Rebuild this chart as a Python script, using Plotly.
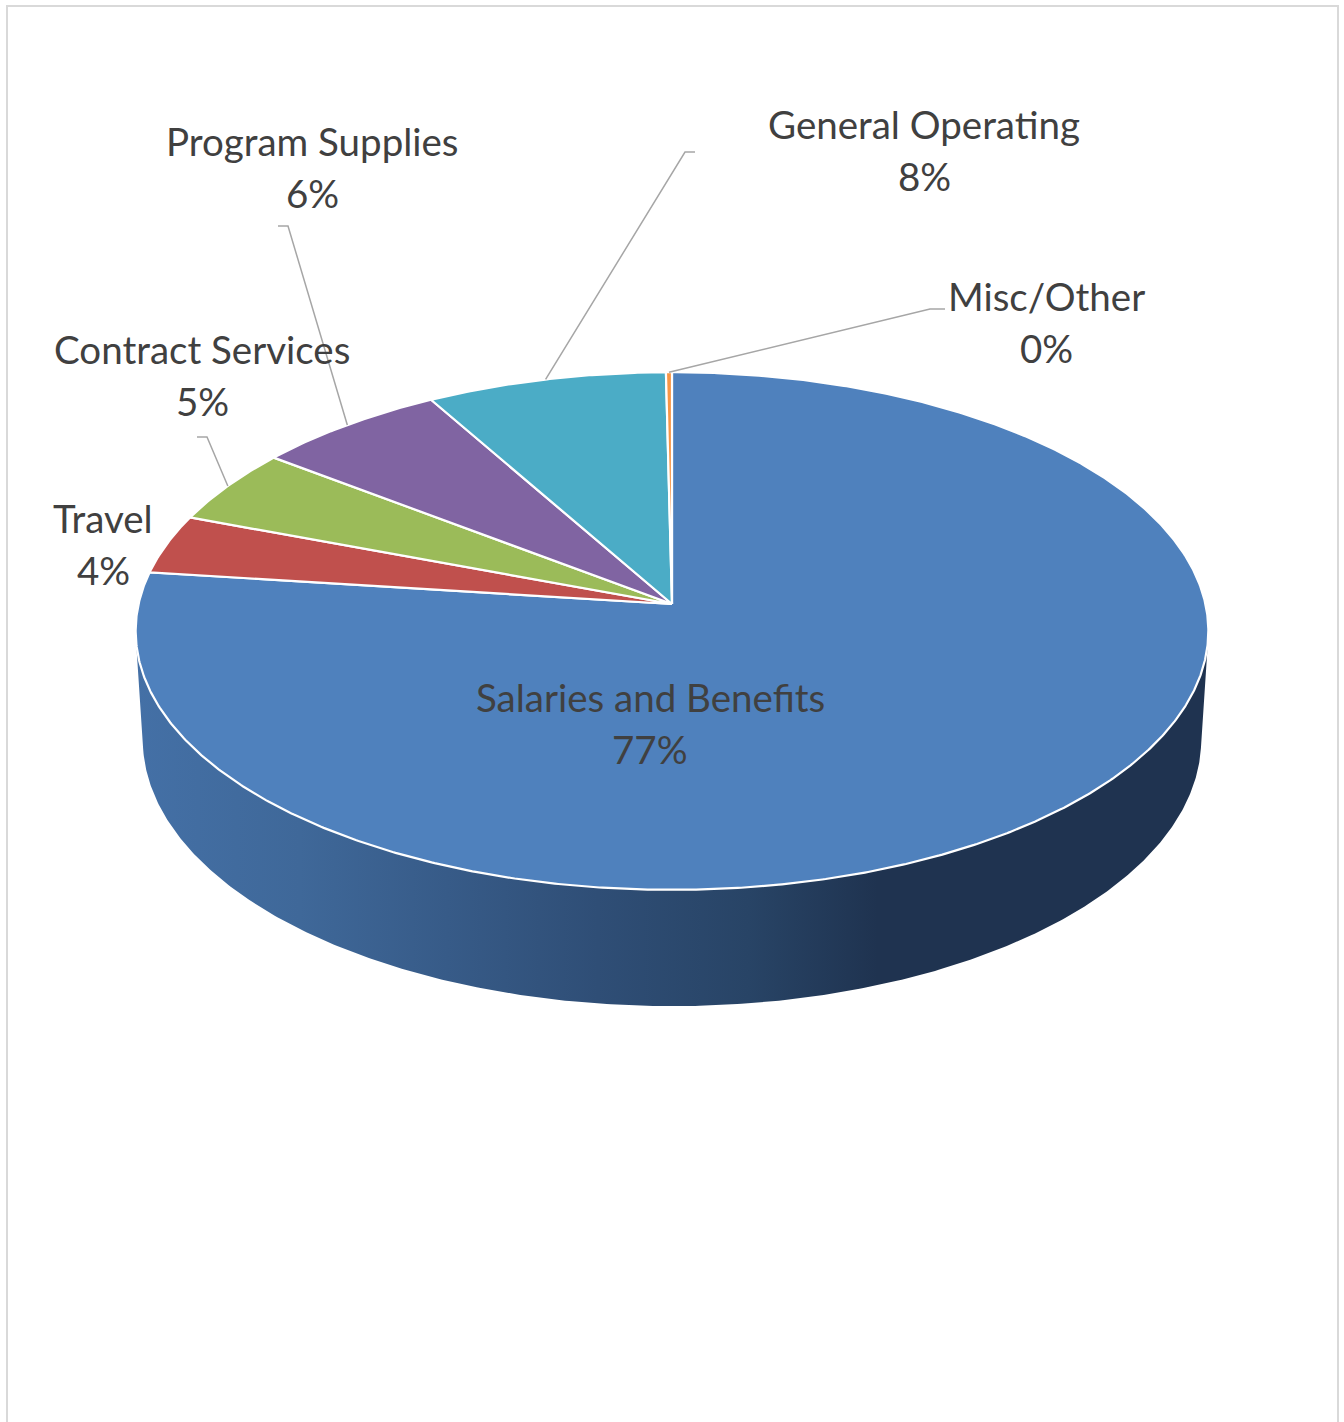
import numpy as np
import plotly.graph_objects as go

# ---------------- data ----------------
categories = ["Salaries and Benefits", "Travel", "Contract Services",
              "Program Supplies", "General Operating", "Misc/Other"]
values = [77.0, 3.7, 4.7, 6.4, 8.0, 0.2]

# ---------------- style ----------------
slice_colors = ["#4F81BD", "#C0504D", "#9BBB59", "#8064A2", "#4BACC6", "#F79646"]
text_color = "#404040"
leader_color = "#A6A6A6"
FONT = "Lato"
FSIZE = 38.5

W, H = 1344, 1422
# projection of a tilted disc (pixel space)
CX, CY, SCALE = 672.0, 604.0, 4483.0
SIN_T, COS_T = 0.48, np.sqrt(1 - 0.48 ** 2)
DIST = COS_T * 9.58
THICK = 0.234


def proj(theta, z=0.0, r=1.0):
    X = r * np.cos(theta)
    Y = r * np.sin(theta)
    d = DIST + Y * COS_T - z * SIN_T
    sx = X / d
    sy = (Y * SIN_T + z * COS_T) / d
    return CX + SCALE * sx, CY - SCALE * sy


def clock_to_theta(a_deg):
    return np.radians(90.0 - a_deg)


total = sum(values)
angles = [v / total * 360.0 for v in values]
starts = np.concatenate([[0.0], np.cumsum(angles)[:-1]])

fig = go.Figure()

# ---------------- side wall (front, visible) ----------------
t = np.arcsin(-1.0 / (DIST * COS_T))
th_side = np.linspace(np.pi - t, 2 * np.pi + t, 400)
tx, ty = proj(th_side, 0.0)
bx, by = proj(th_side[::-1], -THICK)
side_x = np.concatenate([tx, bx, tx[:1]])
side_y = np.concatenate([ty, by, ty[:1]])
fig.add_trace(go.Scatter(
    x=side_x, y=side_y, mode="lines", fill="toself",
    line=dict(width=0, color="rgba(0,0,0,0)"),
    fillgradient=dict(
        type="horizontal", start=135, stop=1211,
        colorscale=[[0.0, "#4470A6"], [0.153, "#3F6899"], [0.29, "#375B88"],
                    [0.43, "#2F4E76"], [0.57, "#284466"], [0.69, "#1F3350"],
                    [1.0, "#1F3350"]]),
    hoverinfo="skip", showlegend=False))

# ---------------- top faces ----------------
for cat, a0, da, col in zip(categories, starts, angles, slice_colors):
    n = max(int(da * 3), 4)
    th = clock_to_theta(np.linspace(a0, a0 + da, n))
    ax, ay = proj(th, 0.0)
    xs = np.concatenate([[CX], ax, [CX]])
    ys = np.concatenate([[CY], ay, [CY]])
    fig.add_trace(go.Scatter(
        x=xs, y=ys, mode="lines", fill="toself", fillcolor=col,
        line=dict(color="white", width=2.2), hoverinfo="skip",
        showlegend=False, name=cat))

# ---------------- labels ----------------
# name centre x, name y, percent y, leader elbow (x, y) and horizontal end x
label_layout = {
    "Salaries and Benefits": (650, 697, 749, None),
    "Travel": (103, 518, 570, None),
    "Contract Services": (202, 349, 401, (207, 437, 197)),
    "Program Supplies": (312, 141, 193, (288, 226, 278)),
    "General Operating": (924, 124, 176, (685, 152, 695)),
    "Misc/Other": (1046, 296, 348, (930, 309, 945)),
}

annotations = []
for cat, a0, da, v in zip(categories, starts, angles, values):
    xc, yn, yp, leader = label_layout[cat]
    pct = f"{round(v / total * 100):.0f}%"
    for txt, yy in ((cat, yn), (pct, yp)):
        annotations.append(dict(
            x=xc, y=yy, xref="x", yref="y", text=txt, showarrow=False,
            xanchor="center", yanchor="middle",
            font=dict(family=FONT, size=FSIZE, color=text_color)))
    if leader is not None:
        ex, ey, hx = leader
        mx, my = proj(clock_to_theta(a0 + da / 2.0), 0.0)
        fig.add_trace(go.Scatter(
            x=[mx, ex, hx], y=[my, ey, ey], mode="lines",
            line=dict(color=leader_color, width=1.5),
            hoverinfo="skip", showlegend=False))

fig.update_layout(
    width=W, height=H,
    margin=dict(l=0, r=0, t=0, b=0),
    paper_bgcolor="white", plot_bgcolor="white",
    xaxis=dict(range=[0, W], visible=False, fixedrange=True),
    yaxis=dict(range=[H, 0], visible=False, fixedrange=True),
    annotations=annotations,
    shapes=[dict(type="rect", xref="x", yref="y", x0=7, y0=6, x1=1338, y1=1440,
                 line=dict(color="#D9D9D9", width=2), layer="below")],
    showlegend=False,
)

fig.write_html("out.html")
